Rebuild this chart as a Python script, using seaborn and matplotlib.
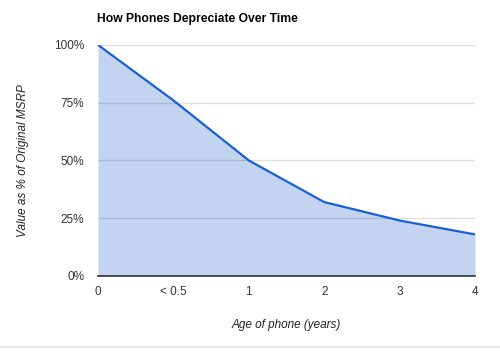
import numpy as np
import pandas as pd
import seaborn as sns
import matplotlib.pyplot as plt

# Data
ages = ["0", "< 0.5", "1", "2", "3", "4"]
value_pct = [100, 76, 50, 32, 24, 18]

line_color = "#1a5fd3"
fill_color = "#c3d4f1"

sns.set_style("white")
plt.rcParams["font.family"] = ["Liberation Sans", "DejaVu Sans"]

df = pd.DataFrame({"pos": np.arange(len(ages)), "value": value_pct})

fig = plt.figure(figsize=(5, 3.51), dpi=100)
ax = fig.add_axes([0.196, 0.2137, 0.754, 0.6583])

ax.fill_between(df["pos"], df["value"], 0, color=fill_color, linewidth=0, zorder=1)
sns.lineplot(data=df, x="pos", y="value", color=line_color, linewidth=1.6, ax=ax, zorder=3)

ax.set_xlim(0, len(ages) - 1)
ax.set_ylim(0, 100)
ax.set_xticks(df["pos"])
ax.set_xticklabels(ages)
ax.set_yticks([0, 25, 50, 75, 100])
ax.set_yticklabels(["0%", "25%", "50%", "75%", "100%"])

# semi-transparent grid so it darkens over the filled area, like the original
ax.grid(axis="y", color="black", alpha=0.13, linewidth=1, zorder=2)
ax.set_axisbelow(False)
for s in ["top", "right", "left"]:
    ax.spines[s].set_visible(False)
ax.spines["bottom"].set_color("#333333")
ax.spines["bottom"].set_linewidth(1.2)
ax.spines["bottom"].set_zorder(4)

ax.tick_params(axis="both", length=0, labelsize=8.5, labelcolor="#333333")
ax.tick_params(axis="x", pad=7)
ax.tick_params(axis="y", pad=10)

ax.set_xlabel("Age of phone (years)", fontsize=8.5, style="italic", color="#222222", labelpad=15)
ax.set_ylabel("Value as % of Original MSRP", fontsize=8.5, style="italic", color="#222222", labelpad=18)

fig.text(0.194, 0.947, "How Phones Depreciate Over Time", fontsize=8.7,
         fontweight="bold", color="#000000", ha="left", va="center")

# thin separator line at the bottom of the image
fig.add_artist(plt.Line2D([0, 1], [0.012, 0.012], color="#e5e5e5", linewidth=1.5))

fig.savefig("out.png", dpi=100)
